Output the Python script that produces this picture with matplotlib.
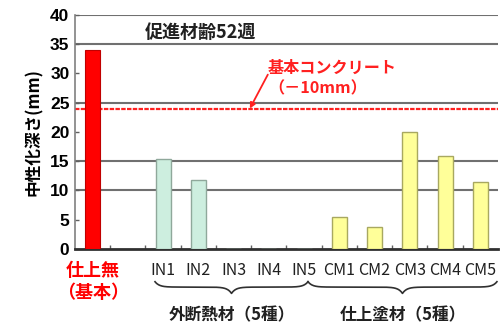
import numpy as np
import matplotlib.pyplot as plt
import matplotlib.transforms as mtransforms

plt.rcParams['font.family'] = ['Noto Sans CJK JP', 'DejaVu Sans']

# carbonation depth (mm) after 52 weeks of accelerated ageing
base_label = ["仕上無", "（基本）"]
base_value = 34.0
in_labels = ["IN1", "IN2", "IN3", "IN4", "IN5"]
in_values = [15.4, 11.8, 0, 0, 0]
cm_labels = ["CM1", "CM2", "CM3", "CM4", "CM5"]
cm_values = [5.5, 3.8, 20.0, 15.9, 11.5]
ref_depth = 24.0
grid_levels = [10, 15, 25, 35, 40]
group_names = ["外断熱材（5種）", "仕上塗材（5種）"]

fig = plt.figure(figsize=(5.01, 3.25), dpi=100)
ax = fig.add_axes([0.1497, 0.234, 0.8443, 0.72])

x_base = 0
x_in = np.arange(2, 7)
x_cm = np.arange(7, 12)
w = 0.43

for g in grid_levels:
    ax.axhline(g, color="#707070", lw=1.5, zorder=1)

ax.bar(x_base, base_value, width=w, color="#ff0000", edgecolor="#c00000", lw=0.8, zorder=3)
ax.bar(x_in, in_values, width=w, color="#cdeedf", edgecolor="#8fa89b", lw=1.0, zorder=3)
ax.bar(x_cm, cm_values, width=w, color="#ffff99", edgecolor="#a8a860", lw=1.0, zorder=3)

ax.axhline(ref_depth, color="#ff2020", lw=1.6, ls=(0, (2.0, 0.6)), zorder=2)

ax.set_xlim(-0.5, 11.5)
ax.set_ylim(0, 40)
ax.set_yticks(range(0, 41, 5))
ax.set_yticklabels([str(v) for v in range(0, 41, 5)], family="Liberation Sans",
                   fontweight="bold", fontsize=12.5)
ax.set_xticks(np.arange(0.5, 11.5, 1.0))
ax.set_xticklabels([])
ax.tick_params(axis="both", direction="in", length=3, color="#606060", width=1)
ax.tick_params(axis="y", pad=4)

for s in ["top", "right"]:
    ax.spines[s].set_visible(False)
ax.spines["left"].set_color("#808080")
ax.spines["left"].set_linewidth(1.2)
ax.spines["bottom"].set_color("#303030")
ax.spines["bottom"].set_linewidth(2.0)

ax.set_ylabel("中性化深さ(mm)", fontsize=12, fontweight="bold", labelpad=5)

ax.text(3.07, 37.0, "促進材齢52週", ha="center", va="center", fontsize=13,
        fontweight="bold", color="#202020", zorder=4)

ax.text(4.97, 30.9, "基本コンクリート", ha="left", va="center", fontsize=11.6,
        fontweight="bold", color="#ff2020")
ax.text(4.97, 27.4, "（－10mm）", ha="left", va="center", fontsize=11.6,
        fontweight="bold", color="#ff2020")
ax.annotate("", xy=(4.46, ref_depth), xytext=(4.97, 29.8),
            arrowprops=dict(arrowstyle="-|>", color="#ff2020", lw=1.3,
                            mutation_scale=8, shrinkA=0, shrinkB=0))

trans = mtransforms.blended_transform_factory(ax.transData, ax.transAxes)

for x, lab in zip(list(x_in) + list(x_cm), in_labels + cm_labels):
    ax.text(x, -0.09, lab, transform=trans, ha="center", va="center",
            fontsize=11.5, color="#202020")

ax.text(x_base, -0.09, base_label[0], transform=trans, ha="center", va="center",
        fontsize=13, fontweight="bold", color="#ff0000")
ax.text(x_base, -0.188, base_label[1], transform=trans, ha="center", va="center",
        fontsize=13, fontweight="bold", color="#ff0000")


def brace(x0, x1, y_end, y_mid, y_tip, s=0.12):
    xm = (x0 + x1) / 2
    xl = np.linspace(x0, xm, 150)
    yl = (y_mid + (y_end - y_mid) * np.exp(-(xl - x0) / s)
          + (y_tip - y_mid) * np.exp(-(xm - xl) / s))
    xr = np.linspace(xm, x1, 150)
    yr = (y_mid + (y_end - y_mid) * np.exp(-(x1 - xr) / s)
          + (y_tip - y_mid) * np.exp(-(xr - xm) / s))
    ax.plot(np.r_[xl, xr], np.r_[yl, yr], color="#303030", lw=1.2,
            transform=trans, clip_on=False)
    return xm


for (x0, x1), name in zip([(1.77, 6.11), (6.11, 11.47)], group_names):
    xm = brace(x0, x1, -0.140, -0.163, -0.190)
    ax.text(xm, -0.282, name, transform=trans, ha="center", va="center",
            fontsize=12, fontweight="bold", color="#202020")

fig.savefig("out.png", dpi=100)
